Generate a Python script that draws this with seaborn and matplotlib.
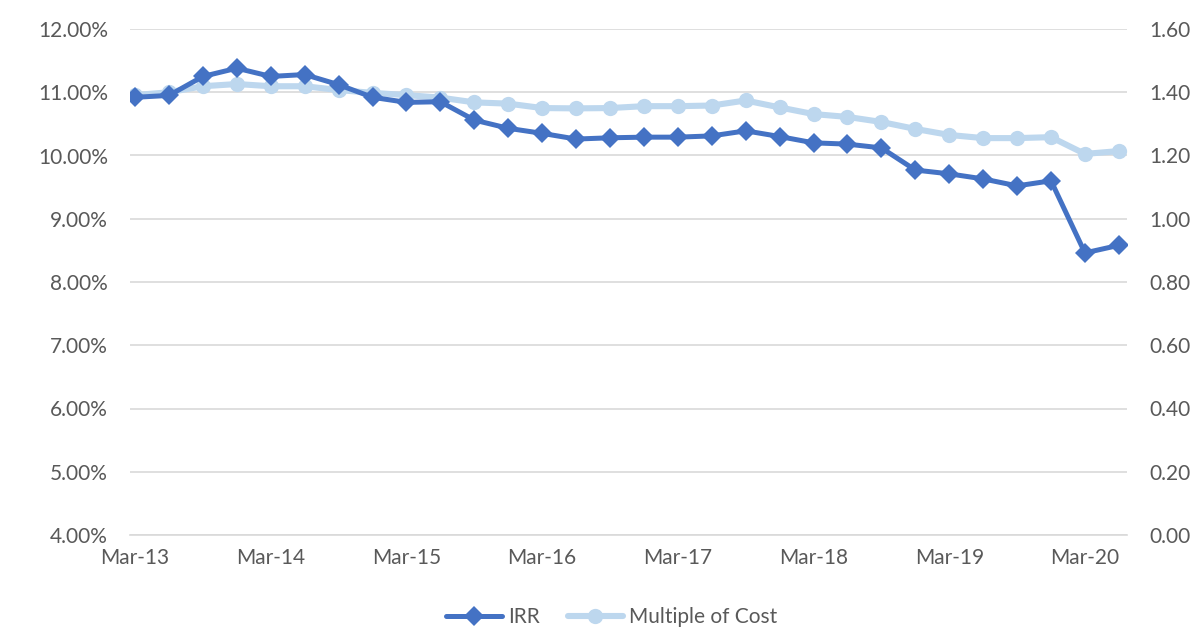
import numpy as np
import pandas as pd
import matplotlib
matplotlib.use("Agg")
import matplotlib.pyplot as plt
import seaborn as sns
from matplotlib.ticker import FuncFormatter, FixedLocator

# quarterly data, Mar-13 .. Jun-20
quarters = pd.period_range("2013Q1", "2020Q2", freq="Q")
irr = [10.92, 10.95, 11.25, 11.38, 11.25, 11.28, 11.12, 10.92, 10.84, 10.85,
       10.56, 10.43, 10.35, 10.26, 10.28, 10.29, 10.29, 10.31, 10.39, 10.30,
       10.20, 10.18, 10.12, 9.77, 9.71, 9.63, 9.52, 9.60, 8.46, 8.58]
multiple = [1.391, 1.400, 1.419, 1.426, 1.419, 1.419, 1.407, 1.398, 1.391, 1.383,
            1.368, 1.364, 1.350, 1.349, 1.350, 1.356, 1.356, 1.358, 1.374, 1.352,
            1.331, 1.322, 1.306, 1.284, 1.265, 1.255, 1.255, 1.258, 1.205, 1.214]
tick_labels = ["Mar-13", "Mar-14", "Mar-15", "Mar-16", "Mar-17", "Mar-18", "Mar-19", "Mar-20"]

DARK = "#4472C4"
LIGHT = "#BDD7EE"
GRID = "#D9D9D9"
TXT = "#595959"
FS = 15

df = pd.DataFrame({"q": np.arange(len(quarters)), "IRR": irr, "Multiple of Cost": multiple})

sns.set_style("white")
plt.rcParams["font.family"] = ["Lato", "DejaVu Sans"]
plt.rcParams["font.size"] = FS

fig = plt.figure(figsize=(12, 6.37), dpi=100)
ax = fig.add_axes([130 / 1200, 1 - 535 / 637, (1127 - 130) / 1200, (535 - 29) / 637])
ax2 = ax.twinx()

sns.lineplot(data=df, x="q", y="IRR", ax=ax, color=DARK, lw=3.6, marker="D",
             markersize=10, markeredgewidth=0, label="IRR", legend=False, zorder=3)
sns.lineplot(data=df, x="q", y="Multiple of Cost", ax=ax2, color=LIGHT, lw=4.4, marker="o",
             markersize=11, markeredgewidth=0, label="Multiple of Cost", legend=False, zorder=2)
ax.set_zorder(ax2.get_zorder() + 1)
ax.patch.set_visible(False)

ax.set_ylim(4, 12)
ax.set_yticks(np.arange(4, 12.01, 1))
ax.yaxis.set_major_formatter(FuncFormatter(lambda v, p: f"{v:.2f}%"))
ax2.set_ylim(0, 1.6)
ax2.set_yticks(np.arange(0, 1.601, 0.2))
ax2.yaxis.set_major_formatter(FuncFormatter(lambda v, p: f"{v:.2f}"))

ax.set_xlim(-0.15, 29.24)
ax.set_xticks(np.arange(0, 29, 4))
ax.set_xticklabels(tick_labels)
ax.xaxis.set_minor_locator(FixedLocator(np.arange(0, 29, 2) - 0.15))
ax.tick_params(axis="x", which="major", length=0, pad=9, colors=TXT, labelsize=FS)
ax.tick_params(axis="x", which="minor", length=4, width=1, color=GRID, direction="out")
ax.tick_params(axis="y", length=0, pad=16, colors=TXT, labelsize=FS)
ax2.tick_params(axis="y", length=0, pad=16, colors=TXT, labelsize=FS)

ax2.grid(False)
ax2.yaxis.grid(True, color=GRID, lw=1.2)
ax2.set_axisbelow(True)
ax.grid(False)
for a in (ax, ax2):
    a.set_xlabel("")
    a.set_ylabel("")
    for s in a.spines.values():
        s.set_visible(False)
ax.spines["bottom"].set_visible(True)
ax.spines["bottom"].set_color(GRID)
ax.spines["bottom"].set_linewidth(1.2)

h1, l1 = ax.get_legend_handles_labels()
h2, l2 = ax2.get_legend_handles_labels()
fig.legend(h1 + h2, l1 + l2, loc="center", bbox_to_anchor=(0.51, 1 - 617 / 637), ncol=2,
           frameon=False, handlelength=2.65, columnspacing=1.35, handletextpad=0.3,
           labelcolor=TXT, fontsize=FS)

fig.savefig("out.png", dpi=100)
